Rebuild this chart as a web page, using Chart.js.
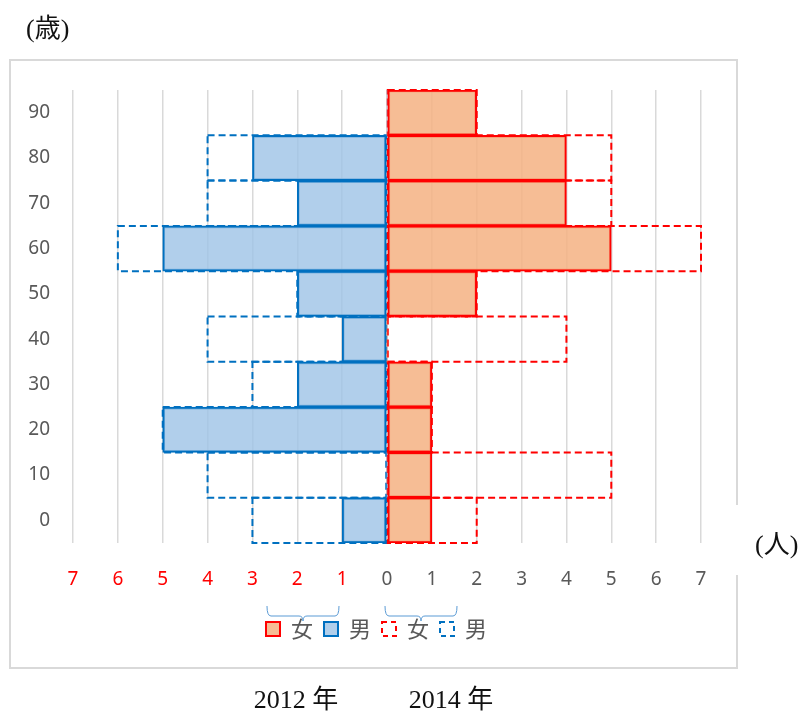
<!DOCTYPE html>
<html lang="ja">
<head>
<meta charset="utf-8">
<title>人口ピラミッド</title>
<script src="https://cdn.jsdelivr.net/npm/chart.js@4.4.1/dist/chart.umd.min.js"></script>
<style>
  html, body { margin: 0; padding: 0; background: #fff; }
</style>
</head>
<body>
<canvas id="pyramidChart" width="803" height="713"></canvas>
<script>
// age groups, bottom to top
const ageLabels = ["0", "10", "20", "30", "40", "50", "60", "70", "80", "90"];

// 2012 (filled bars)
const female2012 = [1, 1, 1, 1, 0, 2, 5, 4, 4, 2];
const male2012 = [1, 0, 5, 2, 1, 2, 5, 2, 3, 0];

// 2014 (dashed outlines)
const female2014 = [2, 5, 1, 1, 4, 2, 7, 5, 5, 2];
const male2014 = [3, 4, 5, 3, 4, 2, 6, 4, 4, 0];

const legendNames = ["女", "男", "女", "男"];
const xTicksMin = -7;
const xTicksMax = 7;

const RED = "#ff0000";
const BLUE = "#0070c0";
const GRAY_TEXT = "#595959";
const GRID = "#d9d9d9";
const DASH = [7, 4];

const toLeft = (arr) => arr.map((v) => -v);

// draws the 2014 outlines with a dashed stroke, from the bar elements
const dashedBars = {
  id: "dashedBars",
  afterDatasetDraw(chart, args) {
    const ds = chart.data.datasets[args.index];
    if (!ds.dashed) return;
    const ctx = chart.ctx;
    ctx.save();
    ctx.strokeStyle = ds.outlineColor;
    ctx.lineWidth = 2;
    ctx.setLineDash(DASH);
    args.meta.data.forEach((bar, i) => {
      if (!ds.data[i]) return;
      const p = bar.getProps(["x", "y", "base", "height"], true);
      const left = Math.min(p.x, p.base);
      const right = Math.max(p.x, p.base);
      ctx.strokeRect(left, p.y - p.height / 2, right - left, p.height);
    });
    ctx.restore();
  },
};

// legend sits centred on the frame, not on the layout box
const legendShift = {
  id: "legendShift",
  afterLayout(chart) {
    const lg = chart.legend;
    if (!lg) return;
    lg.left += 21;
    lg.right += 21;
  },
};

// frame, unit labels, braces over the legend and year captions
const extras = {
  id: "extras",
  beforeDraw(chart) {
    const ctx = chart.ctx;
    ctx.save();
    ctx.fillStyle = "#fff";
    ctx.fillRect(0, 0, chart.width, chart.height);
    ctx.strokeStyle = GRID;
    ctx.lineWidth = 2;
    ctx.beginPath();
    ctx.moveTo(737, 505);
    ctx.lineTo(737, 60);
    ctx.lineTo(10, 60);
    ctx.lineTo(10, 668);
    ctx.lineTo(737, 668);
    ctx.lineTo(737, 575);
    ctx.stroke();
    ctx.restore();
  },
  afterDraw(chart) {
    const ctx = chart.ctx;
    ctx.save();
    ctx.fillStyle = "#111";
    ctx.textBaseline = "middle";
    ctx.font = '26px "Liberation Serif", "Noto Sans CJK JP", serif';
    ctx.textAlign = "left";
    ctx.fillText("(歳)", 26, 30);
    ctx.fillText("(人)", 755, 546);
    ctx.textAlign = "center";
    ctx.fillText("2012 年", 296, 701);
    ctx.fillText("2014 年", 451, 701);

    const hb = chart.legend.legendHitBoxes;
    const box = chart.options.plugins.legend.labels.boxWidth;
    if (hb && hb.length === 4) {
      ctx.strokeStyle = "#5b9bd5";
      ctx.lineWidth = 1;
      [[0, 1], [2, 3]].forEach(([a, b], k) => {
        const x0 = hb[a].left + (k ? 3 : 1);
        const x1 = hb[b].left + box + (k ? 3 : 1);
        const top = hb[a].top + (hb[a].height - box) / 2;
        const yEnd = top - 16;
        const yMid = top - 6;
        const yTip = top - 1;
        const xm = (x0 + x1) / 2;
        ctx.beginPath();
        ctx.moveTo(x0, yEnd);
        ctx.quadraticCurveTo(x0, yMid, x0 + 4, yMid);
        ctx.lineTo(xm - 4, yMid);
        ctx.quadraticCurveTo(xm, yMid, xm, yTip);
        ctx.moveTo(xm, yTip);
        ctx.quadraticCurveTo(xm, yMid, xm + 4, yMid);
        ctx.lineTo(x1 - 4, yMid);
        ctx.quadraticCurveTo(x1, yMid, x1, yEnd);
        ctx.stroke();
      });
    }
    ctx.restore();
  },
};

const ctx = document.getElementById("pyramidChart");

new Chart(ctx, {
  type: "bar",
  data: {
    labels: ageLabels,
    datasets: [
      {
        label: legendNames[0],
        data: female2012,
        backgroundColor: "rgba(244, 177, 131, 0.85)",
        borderColor: RED,
        borderWidth: (c) => (c.raw ? 2 : 0),
        borderSkipped: false,
      },
      {
        label: legendNames[1],
        data: toLeft(male2012),
        backgroundColor: "rgba(157, 195, 230, 0.8)",
        borderColor: BLUE,
        borderWidth: (c) => (c.raw ? 2 : 0),
        borderSkipped: false,
      },
      {
        label: legendNames[2],
        data: female2014,
        dashed: true,
        outlineColor: RED,
        backgroundColor: "rgba(0,0,0,0)",
        borderColor: RED,
        borderWidth: 0,
      },
      {
        label: legendNames[3],
        data: toLeft(male2014),
        dashed: true,
        outlineColor: BLUE,
        backgroundColor: "rgba(0,0,0,0)",
        borderColor: BLUE,
        borderWidth: 0,
      },
    ],
  },
  options: {
    indexAxis: "y",
    responsive: false,
    animation: false,
    devicePixelRatio: 1,
    layout: {
      padding: { left: 10, right: 102, top: 90, bottom: 63 },
    },
    datasets: {
      bar: {
        grouped: false,
        barPercentage: 1,
        categoryPercentage: 1,
      },
    },
    scales: {
      x: {
        min: xTicksMin,
        max: xTicksMax,
        afterFit(scale) {
          scale.height = 64;
        },
        border: { display: false },
        grid: {
          color: GRID,
          lineWidth: 1.5,
          drawTicks: false,
        },
        ticks: {
          stepSize: 1,
          padding: 25,
          font: { family: "Noto Sans", size: 19 },
          color: (c) => (c.tick && c.tick.value < 0 ? RED : GRAY_TEXT),
          callback: (v) => Math.abs(v),
        },
      },
      y: {
        reverse: true,
        afterFit(scale) {
          scale.width = 63;
        },
        border: { display: false },
        grid: { display: false, drawTicks: false },
        ticks: {
          padding: 23,
          font: { family: "Noto Sans", size: 19 },
          color: GRAY_TEXT,
        },
      },
    },
    plugins: {
      tooltip: { enabled: false },
      legend: {
        position: "bottom",
        labels: {
          boxWidth: 14,
          boxHeight: 14,
          padding: 11,
          color: GRAY_TEXT,
          font: { family: "Noto Sans CJK JP", size: 22 },
          generateLabels(chart) {
            const items = Chart.defaults.plugins.legend.labels.generateLabels(chart);
            items.forEach((item, i) => {
              const ds = chart.data.datasets[i];
              item.lineWidth = 2;
              if (ds.dashed) {
                item.fillStyle = "rgba(0,0,0,0)";
                item.strokeStyle = ds.outlineColor;
                item.lineDash = [5, 4];
              }
            });
            return items;
          },
        },
      },
    },
  },
  plugins: [dashedBars, legendShift, extras],
});
</script>
</body>
</html>
